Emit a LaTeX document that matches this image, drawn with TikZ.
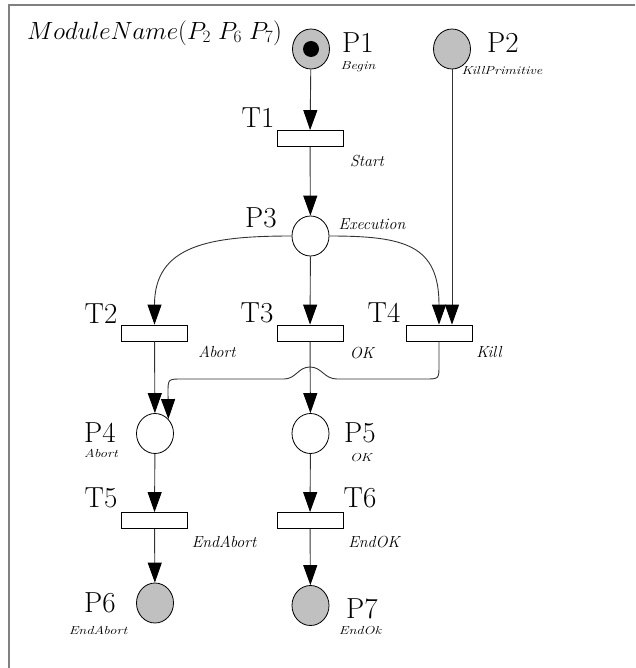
\documentclass[tikz,border=0pt]{standalone}
\usepackage{graphicx}
\usetikzlibrary{arrows.meta,shapes.geometric}
\definecolor{placegray}{RGB}{192,192,192}
\definecolor{linegray}{RGB}{50,50,50}
\definecolor{framegray}{RGB}{128,128,128}
\begin{document}
\begin{tikzpicture}[x=1pt,y=-1pt,
 place/.style={ellipse,draw=black,line width=0.8pt,minimum width=37pt,minimum height=40pt,inner sep=0pt},
 final/.style={place,fill=placegray},
 trans/.style={rectangle,draw=black,line width=0.8pt,fill=white,minimum width=66pt,minimum height=16pt,inner sep=0pt},
 big/.style={font=\fontsize{29}{32}\selectfont,inner sep=0pt},
 tname/.style={font=\fontsize{16}{19}\selectfont\itshape,inner sep=0pt},
 pname/.style={font=\fontsize{14.5}{17}\selectfont\itshape,inner sep=0pt},
 arc/.style={draw=linegray,line width=0.9pt,-{Triangle[length=20pt,width=14pt,black]}},
]
\useasboundingbox (0,0) rectangle (635,668);
\draw[framegray,line width=1.5pt] (9,668) -- (9,5) -- (635,5);

\node[anchor=west,font=\fontsize{25}{28}\selectfont,inner sep=0pt] (title) at (27,33) {$ModuleName(P_2\;P_6\;P_7)$};

% places
\node[final] (P1) at (311,49) {};
\node[circle,fill=black,minimum size=16pt,inner sep=0pt] (tok) at (P1) {};
\node[final] (P2) at (452,49) {};
\node[place] (P3) at (310.5,236) {};
\node[place] (P4) at (155,433.5) {};
\node[place] (P5) at (310.5,433.5) {};
\node[final] (P6) at (155,603) {};
\node[final] (P7) at (310.5,605.5) {};

% transitions
\node[trans] (T1) at (310,138.5) {};
\node[trans] (T2) at (154.5,333) {};
\node[trans] (T3) at (310,333) {};
\node[trans] (T4) at (439,333) {};
\node[trans] (T5) at (154.5,520.5) {};
\node[trans] (T6) at (310,520.5) {};

% labels
\node[big] (lP1) at (358,43) {P1};
\node[pname] (lBegin) at (358,67) {\scalebox{1}[0.8]{Begin}};
\node[big] (lP2) at (503,43) {P2};
\node[pname] (lKP) at (502,71) {\scalebox{1}[0.8]{KillPrimitive}};
\node[big] (lT1) at (258,118) {T1};
\node[tname] (lStart) at (367,161) {Start};
\node[big] (lP3) at (261,218) {P3};
\node[tname] (lExec) at (372,224) {Execution};
\node[big] (lT2) at (101,314) {T2};
\node[tname] (lAbort) at (217,352) {Abort};
\node[big] (lT3) at (257,313) {T3};
\node[tname] (lOK) at (362,353) {OK};
\node[big] (lT4) at (384,313) {T4};
\node[tname] (lKill) at (489,352) {Kill};
\node[big] (lP4) at (100,433) {P4};
\node[pname] (lAbortP) at (101,453) {\scalebox{1}[0.8]{Abort}};
\node[big] (lP5) at (360,433) {P5};
\node[pname] (lOKP) at (361,458) {\scalebox{1}[0.8]{OK}};
\node[big] (lT5) at (101,498) {T5};
\node[tname] (lEndAbort) at (224,542) {EndAbort};
\node[big] (lT6) at (360,498) {T6};
\node[tname] (lEndOK) at (374,542) {EndOK};
\node[big] (lP6) at (100,603) {P6};
\node[pname] (lEndAbortP) at (98,630) {\scalebox{1}[0.8]{EndAbort}};
\node[big] (lP7) at (362,609) {P7};
\node[pname] (lEndOk) at (360,631) {\scalebox{1}[0.8]{EndOk}};

% connectors
\draw[arc] (P1) -- (T1);
\draw[arc] (T1) -- (P3);
\draw[arc] (P3) -- (T3);
\draw[arc] (P3.west) .. controls (210,236) and (154.5,245) .. (T2.north);
\draw[arc] (P3.east) .. controls (405,236) and (439,245) .. (T4.north);
\draw[arc] (P2.south) -- (P2.south |- T4.north);
\draw[arc] (T2) -- (P4);
\draw[arc] (T3) -- (P5);
\draw[arc] (T4.south) -- (439,365) .. controls (439,379) .. (425,379) -- (337,379)
  .. controls (324,379) and (322,367) .. (310,367)
  .. controls (298,367) and (296,379) .. (284,379)
  -- (182,379) .. controls (168,379) .. (168,393) -- (P4.north east);
\draw[arc] (P4) -- (T5);
\draw[arc] (P5) -- (T6);
\draw[arc] (T5) -- (P6);
\draw[arc] (T6) -- (P7);
\end{tikzpicture}
\end{document}
